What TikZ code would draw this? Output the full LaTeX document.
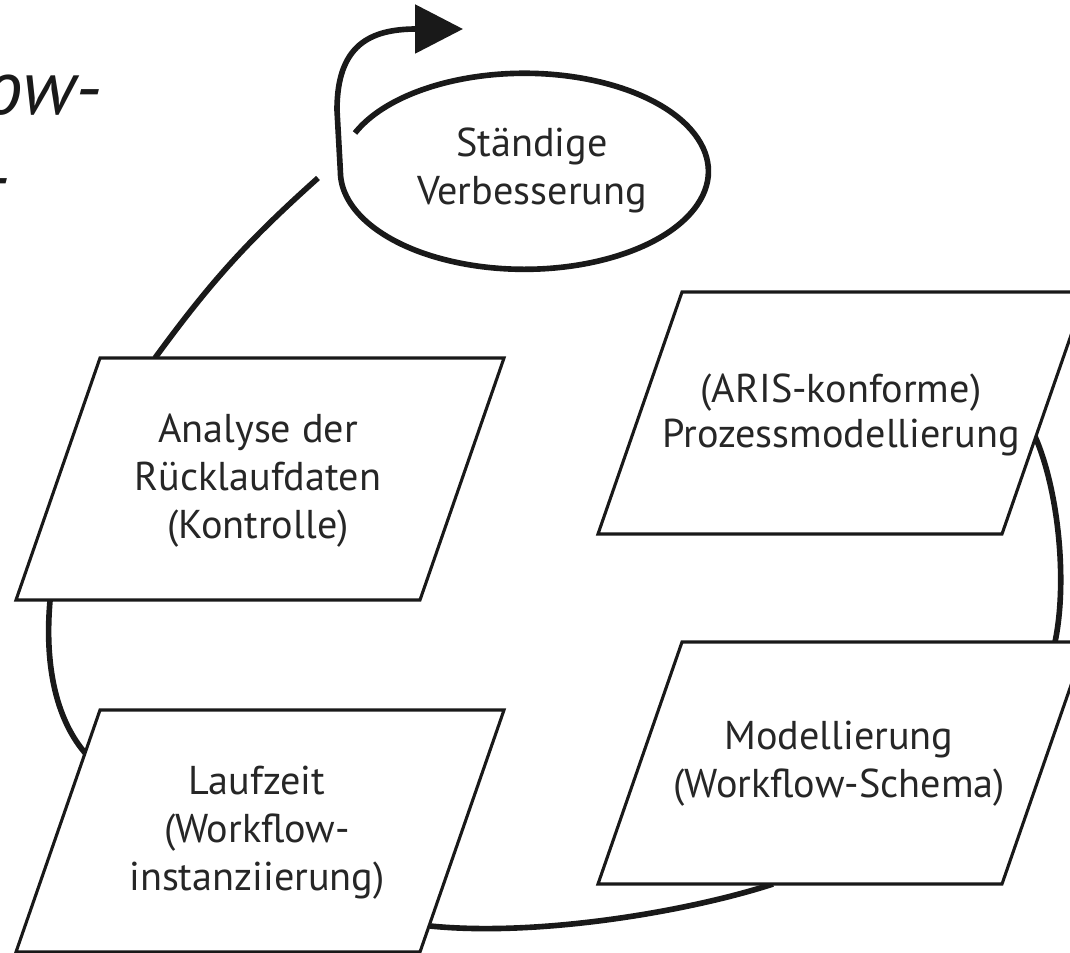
\documentclass[tikz,border=0pt]{standalone}
\usepackage{fontspec}
\setmainfont{PT Sans}
\usetikzlibrary{arrows.meta}
\begin{document}
\begin{tikzpicture}[x=0.025cm,y=-0.025cm,
  box/.style={draw=black!90, line width=2.2pt, fill=white, line join=miter},
  conn/.style={draw=black!90, line width=4pt},
  lbl/.style={align=center, font=\fontsize{28.6}{34.1}\selectfont, text=black!85, inner sep=0pt},
  head/.style={font=\itshape\fontsize{55}{66}\selectfont, text=black!90, inner sep=0pt, anchor=base east},
]
\clip (0,0) rectangle (1070,952);
\fill[white] (0,0) rectangle (1070,952);

% connector end points
\coordinate (a1) at (155,358);
\coordinate (e1) at (318,178);
\coordinate (a2) at (50,601);
\coordinate (l1) at (86,754);
\coordinate (l2) at (430,926);
\coordinate (m1) at (773,884);
\coordinate (m2) at (1055,642);
\coordinate (p1) at (1033,432);
\coordinate (es) at (355,133);
\coordinate (tip) at (463,29);

% connectors
\draw[conn] (a1) to[bend left=6] (e1);
\draw[conn] (a2) .. controls (44,670) and (58,722) .. (l1);
\draw[conn] (l2) .. controls (540,937) and (690,911) .. (m1);
\draw[conn] (p1) .. controls (1058,485) and (1068,580) .. (m2);
\draw[conn, -{Triangle[length=34pt,width=34pt]}] (es)
  arc[start angle=203, end angle=540, x radius=184, y radius=98]
  -- (337,110) .. controls (337,45) and (370,29) .. (tip);

% boxes
\draw[box] (100,358) -- ++(404,0) -- ++(-84,242) -- ++(-404,0) -- cycle;
\draw[box] (682,292) -- ++(404,0) -- ++(-84,242) -- ++(-404,0) -- cycle;
\draw[box] (682,642) -- ++(404,0) -- ++(-84,242) -- ++(-404,0) -- cycle;
\draw[box] (100,710) -- ++(404,0) -- ++(-84,242) -- ++(-404,0) -- cycle;

% labels
\node[lbl] (ver) at (532,170) {Ständige\\Verbesserung};
\node[lbl] (ana) at (258,481) {Analyse der\\Rücklaufdaten\\(Kontrolle)};
\node[lbl, font=\fontsize{28.6}{32}\selectfont] (pro) at (841,415) {(ARIS-konforme)\\Prozessmodellierung};
\node[lbl] (mod) at (839,764) {Modellierung\\(Workflow-Schema)};
\node[lbl] (lau) at (257,833) {Laufzeit\\(Workflow-\\instanziierung)};

% cut-off heading
\node[head] (h1) at (102,115) {ow-};
\node[head] (h2) at (10,203) {-};
\end{tikzpicture}
\end{document}
